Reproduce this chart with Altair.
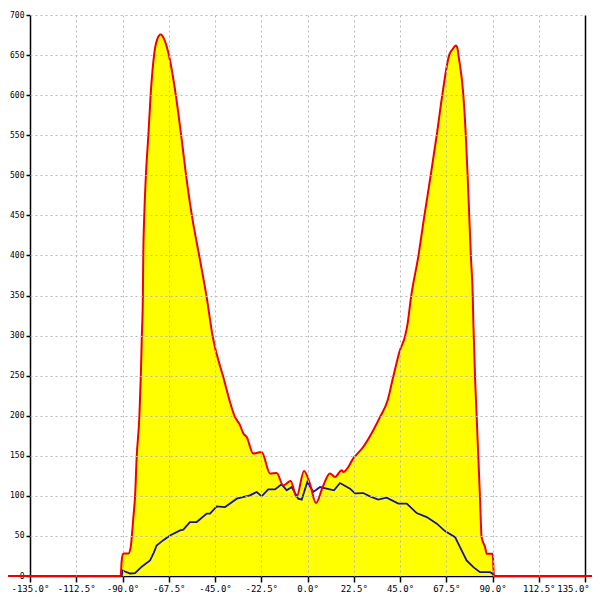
import altair as alt
import pandas as pd

# Red envelope (degrees, value)
red_deg = [-90.9, -90.4, -89.6, -87.2, -86.0, -85.5, -84.7, -83.9, -83.1, -81.8, -81.1, -80.6,
           -80.1, -79.9, -79.4, -78.6, -77.4, -76.3, -74.5, -73.2, -71.4, -69.6, -67.7, -64.1,
           -61.5, -59.1, -56.3, -52.6, -49.0, -46.1, -41.0, -35.3, -32.8, -31.2, -29.6, -26.4,
           -22.3, -18.2, -15.0, -11.8, -8.2, -5.3, -1.7, 1.2, 4.1, 7.4, 10.9, 13.4, 16.6, 17.4,
           22.8, 27.1, 32.0, 35.3, 39.0, 41.7, 45.0, 47.4, 48.7, 50.4, 53.9, 56.8, 59.9, 62.9,
           65.6, 69.0, 70.5, 72.2, 73.0, 73.4, 75.8, 77.0, 77.9, 78.7, 79.5, 80.4, 80.7, 81.5,
           82.3, 83.1, 83.9, 84.7, 86.4, 87.2, 90.1, 90.7]
red_val = [0, 19, 28, 28, 36, 48.5, 73.5, 98.5, 148.5, 198.5, 248.5, 298.5,
           347, 398.5, 450.6, 500.6, 550.6, 600.6, 652.8, 669, 675.6, 669, 652.8, 600.6,
           550.6, 500.6, 450.6, 398.5, 347, 298.5, 248.5, 198.5, 188, 177.8, 173.5, 152.8,
           154.8, 127.8, 128.5, 113, 118.5, 98.5, 131, 115, 91, 111, 127.8, 123.5, 131.9, 129.8,
           148.5, 161, 181.9, 198.5, 219.4, 248.5, 281.9, 298.5, 315, 348.5, 398.5, 448.5, 499.4, 550.6,
           600.6, 650.6, 657, 661.9, 658, 650.6, 600.6, 550.6, 499.4, 448.5, 398.5, 348.5, 315, 248.5,
           198.5, 148.5, 98.5, 48.5, 36, 27.8, 27.8, 0]

# Blue curve (degrees, value)
blue_deg = [-90.4, -89.9, -88.8, -86.3, -83.9, -80.5, -76.6, -74.7, -73.4, -70.3, -66.9, -62.0,
            -60.4, -57.2, -53.9, -49.0, -47.4, -44.2, -40.1, -34.4, -28.0, -24.7, -22.3, -19.1,
            -15.8, -12.6, -10.1, -7.7, -4.5, -2.8, -0.1, 2.8, 6.1, 9.3, 12.9, 15.8, 20.7, 23.1,
            27.1, 30.4, 34.4, 38.5, 44.2, 48.3, 53.1, 58.0, 62.9, 66.9, 71.8, 74.2, 77.4, 80.7,
            83.9, 88.8, 90.1, 90.7]
blue_val = [0, 6.9, 5.6, 3.1, 3.5, 11.9, 19.4, 29.4, 38.1, 44.4, 50.6, 56.9,
            57.8, 67.3, 67.3, 77.8, 77.8, 86.9, 86.0, 96.5, 100.6, 104.8, 99.4, 108.1,
            108.1, 114.4, 106.9, 111.0, 96.5, 95.3, 117.3, 104.8, 111.0, 109.0, 106.9, 116.0, 109.0, 103.1,
            103.5, 99.4, 95.3, 97.8, 90.3, 90.3, 78.5, 73.5, 65.3, 56.0, 48.5, 36.0, 19.4, 11.0,
            4.8, 4.8, 2.8, 0]

# Baseline extension of the red line beyond the plot
ext_deg = [-180.0, 180.0]
ext_val = [0, 0]

x_ticks = [-135, -112.5, -90, -67.5, -45, -22.5, 0, 22.5, 45, 67.5, 90, 112.5, 135]
y_ticks = [0, 50, 100, 150, 200, 250, 300, 350, 400, 450, 500, 550, 600, 650, 700]
x_grid = [-112.5, -90, -67.5, -45, -22.5, 0, 22.5, 45, 67.5, 90, 112.5]
y_grid = [50, 100, 150, 200, 250, 300, 350, 400, 450, 500, 550, 600, 650, 700]

red_df = pd.DataFrame({"deg": red_deg, "val": red_val})
red_ext_df = pd.DataFrame({"deg": [ext_deg[0]] + red_deg + [ext_deg[1]],
                           "val": [ext_val[0]] + red_val + [ext_val[1]]})
blue_df = pd.DataFrame({"deg": blue_deg, "val": blue_val})

xs = alt.Scale(domain=[-135, 135], nice=False, zero=False)
ys = alt.Scale(domain=[0, 700], nice=False)

grid_x = alt.Axis(orient="bottom", grid=True, gridColor="#b8b8b8", gridDash=[2, 3], gridWidth=1,
                  domain=False, ticks=False, labels=False, values=x_grid, zindex=1)
grid_y = alt.Axis(orient="left", grid=True, gridColor="#b8b8b8", gridDash=[2, 3], gridWidth=1,
                  domain=False, ticks=False, labels=False, values=y_grid, zindex=1)

main_x = alt.Axis(orient="bottom", grid=False, domain=True, domainColor="black", domainWidth=1.5,
                  ticks=True, tickColor="black", tickSize=6, tickWidth=1.5, labelPadding=2,
                  values=x_ticks, labelOverlap=False, labelFlush=False,
                  labelOffset={"expr": "datum.value >= 135 ? -12 : 0"},
                  labelExpr="(datum.value < 0 ? '-' : '') + format(abs(datum.value), '.1f') + '°'",
                  labelFont="DejaVu Sans Mono", labelFontSize=9, labelColor="black", zindex=0)
main_y = alt.Axis(orient="left", grid=False, domain=True, domainColor="black", domainWidth=1.5,
                  ticks=True, tickColor="black", tickSize=4, tickWidth=1.5, labelPadding=2,
                  values=y_ticks, labelOverlap=False, labelFlush=False, labelFont="DejaVu Sans Mono",
                  labelFontSize=8, labelColor="black", zindex=0)
right_y = alt.Axis(orient="right", grid=False, domain=True, domainColor="black", domainWidth=1.5,
                   ticks=False, labels=False, values=y_ticks)

area = alt.Chart(red_df).mark_area(color="#ffff00", opacity=1, interpolate="monotone").encode(
    x=alt.X("deg:Q", scale=xs, axis=grid_x, title=""),
    y=alt.Y("val:Q", scale=ys, axis=grid_y, title="", stack=False),
)

blue = alt.Chart(blue_df).mark_line(color="#14149e", strokeWidth=1.8).encode(
    x=alt.X("deg:Q", scale=xs, axis=None, title=""),
    y=alt.Y("val:Q", scale=ys, axis=right_y, title=""),
    order=alt.Order("deg:Q"),
)

red = alt.Chart(red_ext_df).mark_line(color="#ee0000", strokeWidth=2, clip=False,
                                      interpolate="monotone").encode(
    x=alt.X("deg:Q", scale=xs, axis=main_x, title=""),
    y=alt.Y("val:Q", scale=ys, axis=main_y, title=""),
    order=alt.Order("deg:Q"),
)

chart = alt.layer(area, blue, red).resolve_axis(x="independent", y="independent").properties(
    width=555, height=561,
    autosize=alt.AutoSizeParams(type="none"),
    padding={"left": 22, "top": 7, "right": 7, "bottom": 17},
).configure_view(stroke="transparent")

chart.save("out.html", embed_options={"renderer": "svg", "actions": False})
